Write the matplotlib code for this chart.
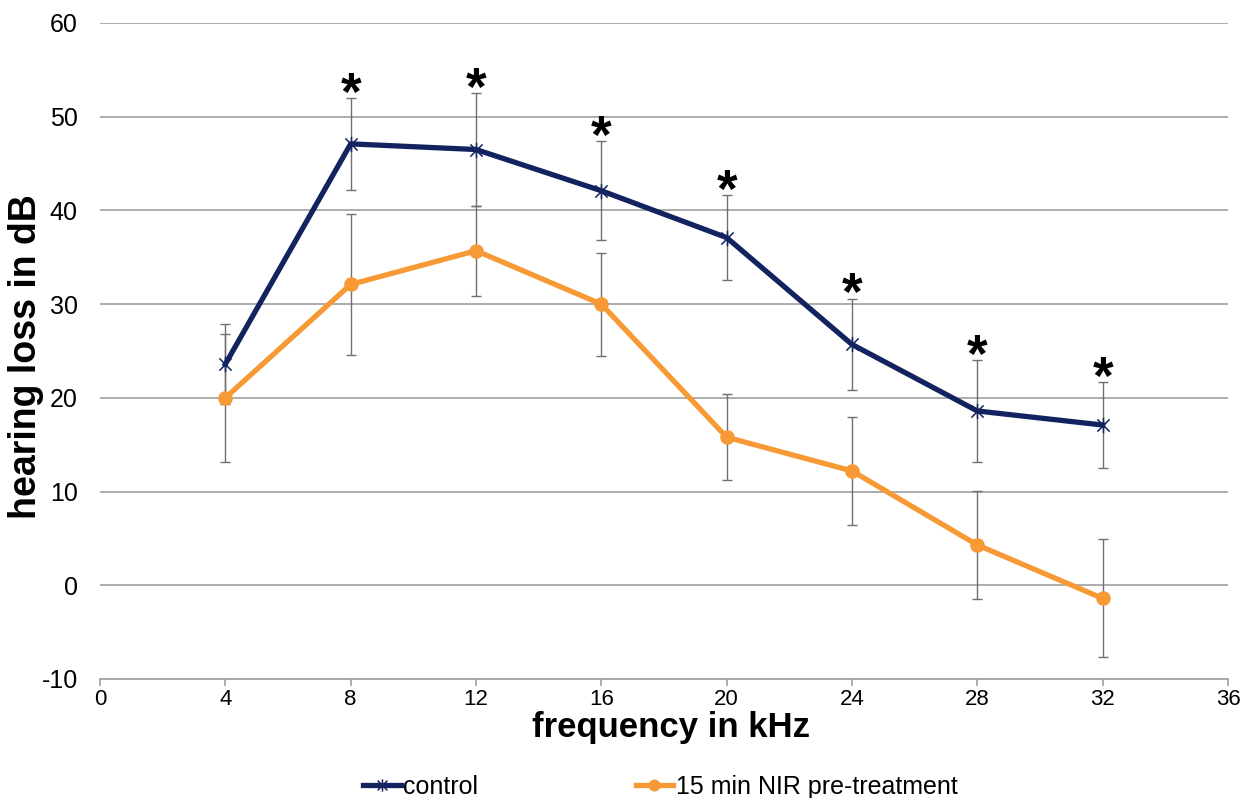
import matplotlib
matplotlib.use("Agg")
import matplotlib.pyplot as plt
from matplotlib.path import Path
from matplotlib.ticker import MultipleLocator

narrow = ["Liberation Sans Narrow", "Liberation Sans", "DejaVu Sans"]
plt.rcParams["font.family"] = ["Liberation Sans", "DejaVu Sans"]
plt.rcParams["axes.unicode_minus"] = False

# hearing loss per frequency, mean and error
freq = [4, 8, 12, 16, 20, 24, 28, 32]
control = [23.6, 47.1, 46.5, 42.1, 37.1, 25.7, 18.6, 17.1]
control_err = [4.3, 4.9, 6.0, 5.3, 4.5, 4.9, 5.4, 4.6]
nir = [20.0, 32.1, 35.7, 30.0, 15.8, 12.2, 4.3, -1.4]
nir_err = [6.8, 7.5, 4.8, 5.5, 4.6, 5.8, 5.8, 6.3]
significant = [8, 12, 16, 20, 24, 28, 32]

navy = "#13235f"
orange = "#f79a35"

# excel style star marker: an x with a vertical stroke
star = Path([(-1, -1), (1, 1), (-1, 1), (1, -1), (0, -1.25), (0, 1.25)],
            [Path.MOVETO, Path.LINETO] * 3)

fig = plt.figure(figsize=(12.55, 7.98), dpi=100)
ax = fig.add_axes([100 / 1255, 119 / 798, 1128 / 1255, 656 / 798])

ax.errorbar(freq, control, yerr=control_err, fmt="none", ecolor="#707070",
            elinewidth=1, capsize=3.5, capthick=1, zorder=2)
ax.errorbar(freq, nir, yerr=nir_err, fmt="none", ecolor="#707070",
            elinewidth=1, capsize=3.5, capthick=1, zorder=2)

ax.plot(freq, control, color=navy, lw=3.8, marker=star, ms=11, mew=1.1,
        label="control", zorder=4)
ax.plot(freq, nir, color=orange, lw=3.8, marker="o", ms=9.5,
        label="15 min NIR pre-treatment", zorder=3)

# significance stars above the control error bars
for f, c, e in zip(freq, control, control_err):
    if f in significant:
        ax.annotate("*", (f, c + e), xytext=(0, -8.5), textcoords="offset points",
                    ha="center", va="baseline", fontsize=38, fontweight="bold",
                    color="black")

ax.set_xlim(0, 36)
ax.set_ylim(-10, 60)
ax.xaxis.set_major_locator(MultipleLocator(4))
ax.yaxis.set_major_locator(MultipleLocator(10))
ax.grid(axis="y", color="#a6a6a6", lw=1.3)
ax.set_axisbelow(True)
for s in ["top", "right", "left"]:
    ax.spines[s].set_visible(False)
ax.spines["bottom"].set_color("#a6a6a6")
ax.spines["bottom"].set_linewidth(1.3)
ax.tick_params(axis="y", length=0, pad=16, labelsize=18)
ax.tick_params(axis="x", length=5, color="#a6a6a6", width=1.3, pad=2, labelsize=16)
for lab in ax.get_xticklabels():
    lab.set_family(narrow)

ax.set_xlabel("frequency in kHz", family=narrow, fontsize=25, fontweight="bold")
ax.set_ylabel("hearing loss in dB", family=narrow, fontsize=27, fontweight="bold")
ax.xaxis.set_label_coords(0.506, -0.049)
ax.yaxis.set_label_coords(-0.050, 0.491)

fig.legend(loc="center", bbox_to_anchor=(0.526, 0.014), ncol=2, frameon=False,
           prop={"family": narrow, "size": 18}, handlelength=1.5, handletextpad=0.1,
           columnspacing=6.3, borderpad=0, markerscale=0.8)

fig.savefig("out.png", dpi=100)
